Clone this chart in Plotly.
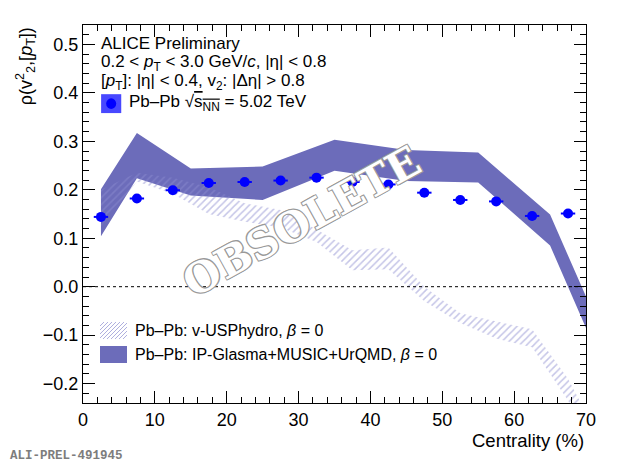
import plotly.graph_objects as go

# ALICE data points (centrality bin centres)
cent = [2.5, 7.5, 12.5, 17.5, 22.5, 27.5, 32.5, 37.5, 42.5, 47.5, 52.5, 57.5, 62.5, 67.5]
rho = [0.144, 0.182, 0.199, 0.214, 0.216, 0.219, 0.225, 0.216, 0.211, 0.194, 0.179, 0.176, 0.146, 0.151]
rho_err = [0.004, 0.003, 0.003, 0.003, 0.003, 0.003, 0.003, 0.003, 0.003, 0.003, 0.003, 0.004, 0.004, 0.005]

# IP-Glasma+MUSIC+UrQMD band
glasma_x = [2.5, 7.5, 15, 25, 35, 45, 55, 65, 75]
glasma_hi = [0.201, 0.317, 0.244, 0.248, 0.303, 0.282, 0.277, 0.149, -0.19]
glasma_lo = [0.104, 0.224, 0.188, 0.179, 0.239, 0.218, 0.215, 0.085, -0.255]

# v-USPhydro band
hydro_x = [2.5, 7.5, 12.5, 17.5, 22.5, 27.5, 32.5, 37.5, 42.5, 47.5, 52.5, 57.5, 62.5, 67.5, 70]
hydro_hi = [0.200, 0.235, 0.225, 0.205, 0.172, 0.158, 0.118, 0.075, 0.081, 0.0, -0.055, -0.072, -0.088, -0.19, -0.26]
hydro_lo = [0.125, 0.217, 0.192, 0.150, 0.134, 0.122, 0.092, 0.034, 0.036, -0.03, -0.075, -0.107, -0.125, -0.235, -0.30]

font = "Liberation Sans, Arial, sans-serif"
band_col = "rgb(108,108,186)"
hatch_col = "rgb(140,140,208)"

fig = go.Figure()

fig.add_trace(go.Scatter(
    x=glasma_x + glasma_x[::-1], y=glasma_hi + glasma_lo[::-1],
    fill="toself", fillcolor=band_col, mode="lines", line=dict(width=0), showlegend=False))

fig.add_trace(go.Scatter(
    x=hydro_x + hydro_x[::-1], y=hydro_hi + hydro_lo[::-1],
    fill="toself", mode="lines", line=dict(width=0), fillcolor="rgba(0,0,0,0)",
    fillpattern=dict(shape="/", fgcolor=hatch_col, bgcolor="rgba(0,0,0,0)", size=5, solidity=0.3),
    showlegend=False))

fig.add_trace(go.Scatter(
    x=cent, y=rho, mode="markers", showlegend=False,
    marker=dict(color="rgb(0,0,255)", size=10),
    error_x=dict(type="constant", value=1, color="rgb(0,0,255)", thickness=2, width=0),
    error_y=dict(type="data", array=rho_err, color="rgb(0,0,255)", thickness=2, width=0)))

# zero line
fig.add_shape(type="line", xref="paper", x0=0, x1=1, yref="y", y0=0, y1=0,
              line=dict(color="black", width=1, dash="dot"))

# plot area in pixels (for placing legend boxes)
PW, PH = 503, 378


def px(x):
    return x / PW


def py(y):
    return y / PH


# top text block
lines = ["ALICE Preliminary",
         "0.2 < <i>p</i><sub>T</sub> < 3.0 GeV/<i>c</i>, |\u03b7| < 0.8",
         "[<i>p</i><sub>T</sub>]: |\u03b7| < 0.4, v<sub>2</sub>: |\u0394\u03b7| > 0.8"]
line_y = [0.950, 0.899, 0.849]
for t, yy in zip(lines, line_y):
    fig.add_annotation(text=t, xref="paper", yref="paper", x=0.032, y=yy,
                       xanchor="left", yanchor="middle", showarrow=False,
                       font=dict(family=font, size=17, color="black"))

# data legend entry
fig.add_shape(type="rect", xref="paper", yref="paper", x0=0.036, x1=0.076,
              y0=0.767, y1=0.817, fillcolor="rgba(40,40,255,0.85)", line=dict(width=0))
fig.add_shape(type="circle", xref="paper", yref="paper", x0=0.046, x1=0.066,
              y0=0.778, y1=0.806, fillcolor="rgb(0,0,255)", line=dict(width=0))
fig.add_annotation(text="Pb\u2013Pb \u221a<span style='text-decoration:overline'>s<sub>NN</sub></span> = 5.02 TeV",
                   xref="paper", yref="paper", x=0.087, y=0.794,
                   xanchor="left", yanchor="middle", showarrow=False,
                   font=dict(family=font, size=17, color="black"))

# model legend: hatched box + solid box
bx, bw, bh = 17, 27, 17
hydro_bottom, glasma_bottom = 64, 40
d = -bh
while d < bw:
    t0, t1 = max(0, -d), min(bh, bw - d)
    if t1 > t0:
        fig.add_shape(type="line", xref="paper", yref="paper",
                      x0=px(bx + d + t0), y0=py(hydro_bottom + t0),
                      x1=px(bx + d + t1), y1=py(hydro_bottom + t1),
                      line=dict(color="rgb(175,175,222)", width=1))
    d += 4
fig.add_shape(type="rect", xref="paper", yref="paper", x0=px(bx), x1=px(bx + bw),
              y0=py(glasma_bottom), y1=py(glasma_bottom + bh), fillcolor=band_col, line=dict(width=0))
legend_text = ["Pb\u2013Pb: v-USPhydro, <i>\u03b2</i> = 0",
               "Pb\u2013Pb: IP-Glasma+MUSIC+UrQMD, <i>\u03b2</i> = 0"]
for t, b in zip(legend_text, [hydro_bottom, glasma_bottom]):
    fig.add_annotation(text=t, xref="paper", yref="paper", x=px(bx + bw + 6), y=py(b + bh / 2),
                       xanchor="left", yanchor="middle", showarrow=False,
                       font=dict(family=font, size=16, color="black"))

# axis titles
fig.add_annotation(text="\u03c1(v<sup>2</sup><sub>2</sub>,[<i>p</i><sub>T</sub>])", textangle=-90,
                   xref="paper", yref="paper", x=-0.115, y=1, xanchor="center", yanchor="top",
                   showarrow=False, font=dict(family=font, size=18, color="black"))
fig.add_annotation(text="Centrality (%)", xref="paper", yref="paper", x=1, y=-0.098,
                   xanchor="right", yanchor="middle", showarrow=False,
                   font=dict(family=font, size=18.5, color="black"))

fig.add_annotation(text="<b>ALI-PREL-491945</b>", xref="paper", yref="paper", x=-0.15, y=-0.14,
                   xanchor="left", yanchor="middle", showarrow=False,
                   font=dict(family="Liberation Mono, Courier New, monospace", size=12.5, color="rgb(125,125,125)"))

# watermark
fig.add_annotation(text="OBSOLETE", xref="paper", yref="paper", x=0.435, y=0.479,
                   textangle=-29, showarrow=False,
                   font=dict(family="DejaVu Serif, serif", size=42, color="white",
                             weight="bold",
                             shadow="1px 1px 0 #999, -1px -1px 0 #999, 1px -1px 0 #999, -1px 1px 0 #999"))

axis_common = dict(showline=True, linecolor="black", linewidth=1, mirror="allticks",
                   ticks="inside", ticklen=12, tickcolor="black", tickwidth=1,
                   showgrid=False, zeroline=False,
                   tickfont=dict(family=font, size=18, color="black"))
fig.update_xaxes(range=[0, 70], dtick=10, tick0=0,
                 minor=dict(dtick=2, ticks="inside", ticklen=6, tickcolor="black"),
                 **axis_common)
fig.update_yaxes(range=[-0.24, 0.54], dtick=0.1, tick0=0, tickformat=".1f",
                 minor=dict(dtick=0.02, ticks="inside", ticklen=6, tickcolor="black"),
                 **axis_common)

fig.update_layout(
    width=620, height=466, margin=dict(l=75, r=42, t=17, b=71),
    plot_bgcolor="white", paper_bgcolor="white", showlegend=False,
)

fig.write_html("out.html")
